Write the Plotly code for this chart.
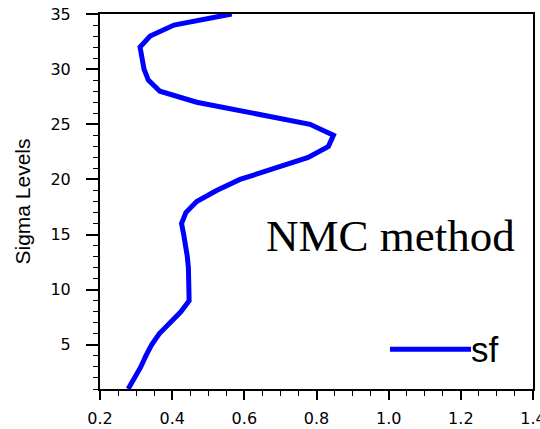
import plotly.graph_objects as go

levels = list(range(1, 36))
sf_values = [0.278, 0.297, 0.313, 0.327, 0.343, 0.364, 0.394, 0.424, 0.447, 0.447,
             0.446, 0.445, 0.442, 0.438, 0.432, 0.426, 0.438, 0.468, 0.523, 0.588,
             0.682, 0.777, 0.833, 0.847, 0.782, 0.622, 0.468, 0.366, 0.334, 0.322,
             0.315, 0.311, 0.339, 0.405, 0.565]
x_ticks = [0.2, 0.4, 0.6, 0.8, 1.0, 1.2, 1.4]
x_ticklabels = ["0.2", "0.4", "0.6", "0.8", "1.0", "1.2", "1.4"]
y_ticks = [5, 10, 15, 20, 25, 30, 35]
series_name = "sf"
annotation_text = "NMC method"
y_title = "Sigma Levels"

fig = go.Figure()
fig.add_trace(go.Scatter(x=sf_values, y=levels, mode="lines", name=series_name,
                         line=dict(color="#0000FF", width=5), showlegend=False))

tickfont = dict(family="DejaVu Sans", size=16, color="black")
fig.update_layout(
    width=540, height=429,
    margin=dict(l=100, r=7, t=14, b=40),
    paper_bgcolor="white", plot_bgcolor="white",
    xaxis=dict(range=[0.2, 1.4], tickvals=x_ticks, ticktext=x_ticklabels, automargin=False,
               ticklabeloverflow="allow",
               showgrid=False, zeroline=False, showline=True, linecolor="black", linewidth=2,
               mirror=True, ticks="outside", ticklen=9, tickwidth=2, tickcolor="black",
               tickfont=tickfont, ticklabelstandoff=5,
               minor=dict(dtick=0.05, tick0=0.2, ticks="outside", ticklen=5, tickwidth=1, tickcolor="black")),
    yaxis=dict(range=[1, 35], tickvals=y_ticks, automargin=False,
               ticklabeloverflow="allow",
               showgrid=False, zeroline=False, showline=True, linecolor="black", linewidth=2,
               mirror=True, ticks="outside", ticklen=12, tickwidth=2, tickcolor="black",
               tickfont=tickfont, ticklabelstandoff=12,
               title=dict(text=y_title, font=dict(family="Liberation Sans", size=21, color="black"), standoff=14),
               minor=dict(dtick=1, tick0=0, ticks="outside", ticklen=5, tickwidth=1, tickcolor="black")),
)

fig.add_annotation(text=annotation_text, xref="paper", yref="paper", x=(390 - 100) / 433, y=(389 - 236) / 375,
                   xanchor="center", yanchor="middle", showarrow=False,
                   font=dict(family="Liberation Serif", size=45, color="black"))

# legend drawn manually (long line sample)
fig.add_shape(type="line", xref="paper", yref="paper",
              x0=(390 - 100) / 433, x1=(471 - 100) / 433, y0=(389 - 349.3) / 375, y1=(389 - 349.3) / 375,
              line=dict(color="#0000FF", width=5))
fig.add_annotation(text=series_name, xref="paper", yref="paper", x=(469 - 100) / 433, y=(389 - 349.3) / 375,
                   xanchor="left", yanchor="middle", showarrow=False,
                   font=dict(family="Liberation Sans", size=35, color="black"))

fig.write_html("out.html", config={"displayModeBar": False},
               post_script="document.body.style.margin='0px';document.body.style.overflow='hidden';")
